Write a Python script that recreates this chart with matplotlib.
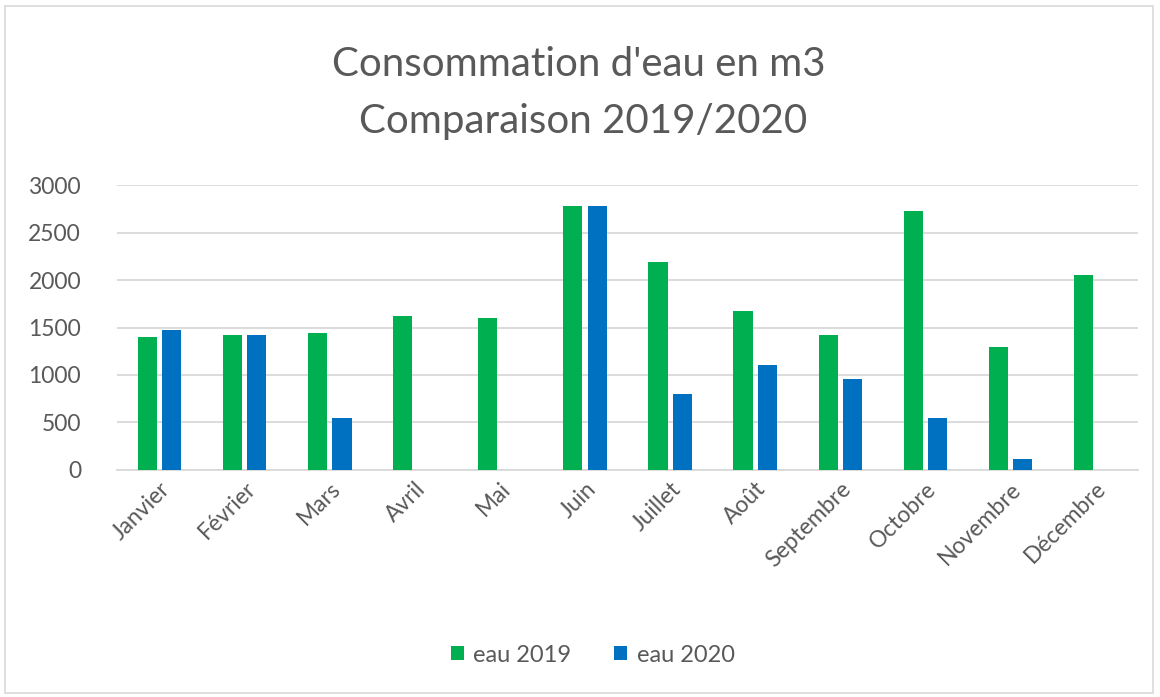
import numpy as np
import matplotlib.pyplot as plt
from matplotlib.patches import Rectangle

months = ["Janvier", "Février", "Mars", "Avril", "Mai", "Juin", "Juillet",
          "Août", "Septembre", "Octobre", "Novembre", "Décembre"]
eau_2019 = [1400, 1420, 1440, 1625, 1600, 2780, 2190, 1675, 1420, 2725, 1290, 2060]
eau_2020 = [1470, 1420, 545, 0, 0, 2780, 800, 1110, 955, 545, 110, 0]

plt.rcParams['font.family'] = ['Lato', 'DejaVu Sans']
grey = "#595959"

fig = plt.figure(figsize=(11.6, 6.97), dpi=100)
ax = fig.add_axes([0.101, 0.326, 0.88, 0.408])

x = np.arange(len(months))
w = 0.225
ax.bar(x - 0.1425, eau_2019, w, color="#00B050", label="eau 2019", zorder=3)
ax.bar(x + 0.1425, eau_2020, w, color="#0070C0", label="eau 2020", zorder=3)

ax.set_xlim(-0.5, len(months) - 0.5)
ax.set_ylim(0, 3000)
ax.set_yticks(range(0, 3001, 500))
ax.grid(axis="y", color="#d9d9d9", linewidth=1.3, zorder=0)
for s in ["top", "right", "left"]:
    ax.spines[s].set_visible(False)
ax.spines["bottom"].set_color("#d9d9d9")
ax.spines["bottom"].set_linewidth(1.3)
ax.tick_params(axis="both", length=0, colors=grey, labelsize=16.5)
ax.tick_params(axis="y", pad=26)
ax.tick_params(axis="x", pad=6)
ax.set_xticks(x)
ax.set_xticklabels(months, rotation=45, ha="right", rotation_mode="anchor")

fig.text(0.499, 0.907, "Consommation d'eau en m3", ha="center", va="center",
         fontsize=29, color=grey)
fig.text(0.503, 0.825, "Comparaison 2019/2020", ha="center", va="center",
         fontsize=29, color=grey)

fig.legend(loc="center", bbox_to_anchor=(0.511, 0.06), ncol=2, frameon=False,
           fontsize=17, labelcolor=grey, handlelength=0.55, handleheight=0.55,
           handletextpad=0.4, columnspacing=1.8)

fig.patches.append(Rectangle((0.004, 0.006), 0.99, 0.985, transform=fig.transFigure,
                             fill=False, edgecolor="#d9d9d9", linewidth=1.2))

fig.savefig("out.png", dpi=100)
